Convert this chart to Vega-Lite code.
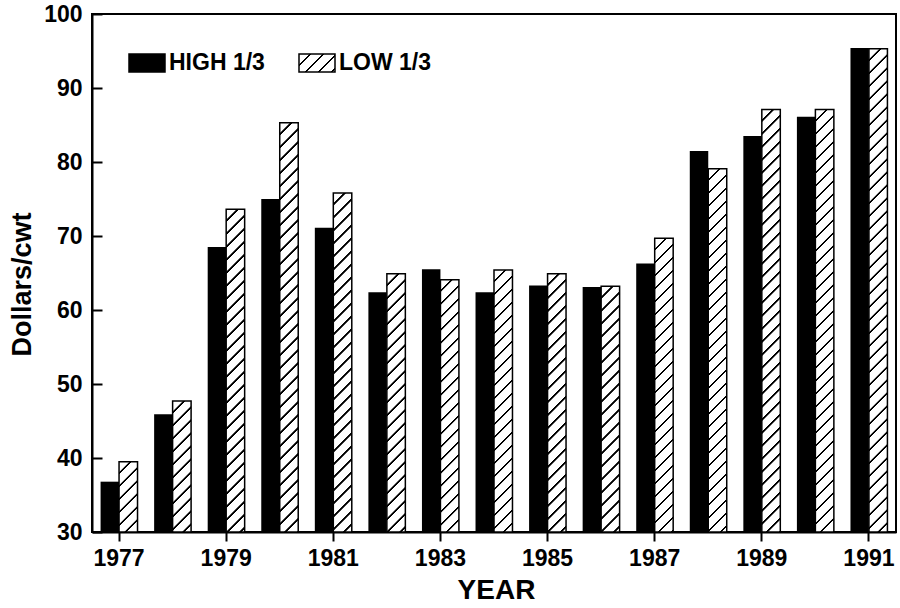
{
  "$schema": "https://vega.github.io/schema/vega-lite/v6.json",
  "autosize": {"type": "none"},
  "padding": {"left": 92, "top": 14, "right": 4, "bottom": 76},
  "width": 804,
  "height": 518,
  "background": "white",
  "params": [
    {"name": "hatch", "value": [
      {"offset":0,"color":"#fff"},
      {"offset":0.0195,"color":"#fff"},{"offset":0.0205,"color":"#000"},{"offset":0.024,"color":"#000"},{"offset":0.025,"color":"#fff"},
      {"offset":0.0445,"color":"#fff"},{"offset":0.0455,"color":"#000"},{"offset":0.049,"color":"#000"},{"offset":0.05,"color":"#fff"},
      {"offset":0.0695,"color":"#fff"},{"offset":0.0705,"color":"#000"},{"offset":0.074,"color":"#000"},{"offset":0.075,"color":"#fff"},
      {"offset":0.0945,"color":"#fff"},{"offset":0.0955,"color":"#000"},{"offset":0.099,"color":"#000"},{"offset":0.1,"color":"#fff"},
      {"offset":0.1195,"color":"#fff"},{"offset":0.1205,"color":"#000"},{"offset":0.124,"color":"#000"},{"offset":0.125,"color":"#fff"},
      {"offset":0.1445,"color":"#fff"},{"offset":0.1455,"color":"#000"},{"offset":0.149,"color":"#000"},{"offset":0.15,"color":"#fff"},
      {"offset":0.1695,"color":"#fff"},{"offset":0.1705,"color":"#000"},{"offset":0.174,"color":"#000"},{"offset":0.175,"color":"#fff"},
      {"offset":0.1945,"color":"#fff"},{"offset":0.1955,"color":"#000"},{"offset":0.199,"color":"#000"},{"offset":0.2,"color":"#fff"},
      {"offset":0.2195,"color":"#fff"},{"offset":0.2205,"color":"#000"},{"offset":0.224,"color":"#000"},{"offset":0.225,"color":"#fff"},
      {"offset":0.2445,"color":"#fff"},{"offset":0.2455,"color":"#000"},{"offset":0.249,"color":"#000"},{"offset":0.25,"color":"#fff"},
      {"offset":0.2695,"color":"#fff"},{"offset":0.2705,"color":"#000"},{"offset":0.274,"color":"#000"},{"offset":0.275,"color":"#fff"},
      {"offset":0.2945,"color":"#fff"},{"offset":0.2955,"color":"#000"},{"offset":0.299,"color":"#000"},{"offset":0.3,"color":"#fff"},
      {"offset":0.3195,"color":"#fff"},{"offset":0.3205,"color":"#000"},{"offset":0.324,"color":"#000"},{"offset":0.325,"color":"#fff"},
      {"offset":0.3445,"color":"#fff"},{"offset":0.3455,"color":"#000"},{"offset":0.349,"color":"#000"},{"offset":0.35,"color":"#fff"},
      {"offset":0.3695,"color":"#fff"},{"offset":0.3705,"color":"#000"},{"offset":0.374,"color":"#000"},{"offset":0.375,"color":"#fff"},
      {"offset":0.3945,"color":"#fff"},{"offset":0.3955,"color":"#000"},{"offset":0.399,"color":"#000"},{"offset":0.4,"color":"#fff"},
      {"offset":0.4195,"color":"#fff"},{"offset":0.4205,"color":"#000"},{"offset":0.424,"color":"#000"},{"offset":0.425,"color":"#fff"},
      {"offset":0.4445,"color":"#fff"},{"offset":0.4455,"color":"#000"},{"offset":0.449,"color":"#000"},{"offset":0.45,"color":"#fff"},
      {"offset":0.4695,"color":"#fff"},{"offset":0.4705,"color":"#000"},{"offset":0.474,"color":"#000"},{"offset":0.475,"color":"#fff"},
      {"offset":0.4945,"color":"#fff"},{"offset":0.4955,"color":"#000"},{"offset":0.499,"color":"#000"},{"offset":0.5,"color":"#fff"},
      {"offset":0.5195,"color":"#fff"},{"offset":0.5205,"color":"#000"},{"offset":0.524,"color":"#000"},{"offset":0.525,"color":"#fff"},
      {"offset":0.5445,"color":"#fff"},{"offset":0.5455,"color":"#000"},{"offset":0.549,"color":"#000"},{"offset":0.55,"color":"#fff"},
      {"offset":0.5695,"color":"#fff"},{"offset":0.5705,"color":"#000"},{"offset":0.574,"color":"#000"},{"offset":0.575,"color":"#fff"},
      {"offset":0.5945,"color":"#fff"},{"offset":0.5955,"color":"#000"},{"offset":0.599,"color":"#000"},{"offset":0.6,"color":"#fff"},
      {"offset":0.6195,"color":"#fff"},{"offset":0.6205,"color":"#000"},{"offset":0.624,"color":"#000"},{"offset":0.625,"color":"#fff"},
      {"offset":0.6445,"color":"#fff"},{"offset":0.6455,"color":"#000"},{"offset":0.649,"color":"#000"},{"offset":0.65,"color":"#fff"},
      {"offset":0.6695,"color":"#fff"},{"offset":0.6705,"color":"#000"},{"offset":0.674,"color":"#000"},{"offset":0.675,"color":"#fff"},
      {"offset":0.6945,"color":"#fff"},{"offset":0.6955,"color":"#000"},{"offset":0.699,"color":"#000"},{"offset":0.7,"color":"#fff"},
      {"offset":0.7195,"color":"#fff"},{"offset":0.7205,"color":"#000"},{"offset":0.724,"color":"#000"},{"offset":0.725,"color":"#fff"},
      {"offset":0.7445,"color":"#fff"},{"offset":0.7455,"color":"#000"},{"offset":0.749,"color":"#000"},{"offset":0.75,"color":"#fff"},
      {"offset":0.7695,"color":"#fff"},{"offset":0.7705,"color":"#000"},{"offset":0.774,"color":"#000"},{"offset":0.775,"color":"#fff"},
      {"offset":0.7945,"color":"#fff"},{"offset":0.7955,"color":"#000"},{"offset":0.799,"color":"#000"},{"offset":0.8,"color":"#fff"},
      {"offset":0.8195,"color":"#fff"},{"offset":0.8205,"color":"#000"},{"offset":0.824,"color":"#000"},{"offset":0.825,"color":"#fff"},
      {"offset":0.8445,"color":"#fff"},{"offset":0.8455,"color":"#000"},{"offset":0.849,"color":"#000"},{"offset":0.85,"color":"#fff"},
      {"offset":0.8695,"color":"#fff"},{"offset":0.8705,"color":"#000"},{"offset":0.874,"color":"#000"},{"offset":0.875,"color":"#fff"},
      {"offset":0.8945,"color":"#fff"},{"offset":0.8955,"color":"#000"},{"offset":0.899,"color":"#000"},{"offset":0.9,"color":"#fff"},
      {"offset":0.9195,"color":"#fff"},{"offset":0.9205,"color":"#000"},{"offset":0.924,"color":"#000"},{"offset":0.925,"color":"#fff"},
      {"offset":0.9445,"color":"#fff"},{"offset":0.9455,"color":"#000"},{"offset":0.949,"color":"#000"},{"offset":0.95,"color":"#fff"},
      {"offset":0.9695,"color":"#fff"},{"offset":0.9705,"color":"#000"},{"offset":0.974,"color":"#000"},{"offset":0.975,"color":"#fff"},
      {"offset":0.9945,"color":"#fff"},{"offset":0.9955,"color":"#000"},{"offset":0.999,"color":"#000"},{"offset":1,"color":"#fff"}
    ]}
  ],
  "data": {"values": [
    {"year": 1977, "series": "HIGH 1/3", "value": 36.8}, {"year": 1977, "series": "LOW 1/3", "value": 39.5},
    {"year": 1978, "series": "HIGH 1/3", "value": 45.9}, {"year": 1978, "series": "LOW 1/3", "value": 47.7},
    {"year": 1979, "series": "HIGH 1/3", "value": 68.5}, {"year": 1979, "series": "LOW 1/3", "value": 73.6},
    {"year": 1980, "series": "HIGH 1/3", "value": 75.0}, {"year": 1980, "series": "LOW 1/3", "value": 85.3},
    {"year": 1981, "series": "HIGH 1/3", "value": 71.1}, {"year": 1981, "series": "LOW 1/3", "value": 75.8},
    {"year": 1982, "series": "HIGH 1/3", "value": 62.4}, {"year": 1982, "series": "LOW 1/3", "value": 64.9},
    {"year": 1983, "series": "HIGH 1/3", "value": 65.5}, {"year": 1983, "series": "LOW 1/3", "value": 64.1},
    {"year": 1984, "series": "HIGH 1/3", "value": 62.4}, {"year": 1984, "series": "LOW 1/3", "value": 65.4},
    {"year": 1985, "series": "HIGH 1/3", "value": 63.3}, {"year": 1985, "series": "LOW 1/3", "value": 64.9},
    {"year": 1986, "series": "HIGH 1/3", "value": 63.1}, {"year": 1986, "series": "LOW 1/3", "value": 63.2},
    {"year": 1987, "series": "HIGH 1/3", "value": 66.3}, {"year": 1987, "series": "LOW 1/3", "value": 69.7},
    {"year": 1988, "series": "HIGH 1/3", "value": 81.5}, {"year": 1988, "series": "LOW 1/3", "value": 79.1},
    {"year": 1989, "series": "HIGH 1/3", "value": 83.5}, {"year": 1989, "series": "LOW 1/3", "value": 87.1},
    {"year": 1990, "series": "HIGH 1/3", "value": 86.1}, {"year": 1990, "series": "LOW 1/3", "value": 87.1},
    {"year": 1991, "series": "HIGH 1/3", "value": 95.4}, {"year": 1991, "series": "LOW 1/3", "value": 95.3}
  ]},
  "encoding": {
    "x": {
      "field": "year", "type": "ordinal",
      "scale": {"paddingInner": 0.31, "paddingOuter": 0.16},
      "axis": {
        "title": "YEAR", "labelAngle": 0,
        "values": [1977, 1979, 1981, 1983, 1985, 1987, 1989, 1991],
        "tickSize": 9, "labelPadding": 6, "labelFontSize": 23,
        "titleFontSize": 28, "titleX": 404, "titleY": 58, "titleBaseline": "middle", "titleAlign": "center"
      }
    },
    "xOffset": {
      "field": "series", "type": "nominal",
      "scale": {"domain": ["HIGH 1/3", "LOW 1/3"], "paddingInner": 0, "paddingOuter": 0}
    },
    "y": {
      "field": "value", "type": "quantitative",
      "scale": {"domain": [30, 100], "zero": false, "nice": false},
      "axis": {
        "title": "Dollars/cwt",
        "values": [30, 40, 50, 60, 70, 80, 90, 100],
        "tickSize": -10, "labelPadding": 20, "labelFontSize": 23,
        "titleFontSize": 27, "titleX": -70, "titleY": 270, "titleAngle": 270,
        "titleBaseline": "middle", "titleAlign": "center"
      }
    },
    "y2": {"datum": 30}
  },
  "layer": [
    {
      "mark": {"type": "bar"},
      "encoding": {
        "fill": {
          "field": "series", "type": "nominal",
          "scale": {
            "domain": ["HIGH 1/3", "LOW 1/3"],
            "range": ["black", {"expr": "{gradient: 'linear', x1: 0, y1: 0, x2: 11.556, y2: 5.778, stops: hatch}"}]
          },
          "legend": {
            "title": null, "orient": "none", "legendX": 36, "legendY": 30,
            "direction": "horizontal",
            "symbolType": "M-1,-0.5H1V0.5H-1Z", "symbolSize": 1296,
            "symbolStrokeColor": "black", "symbolStrokeWidth": 1.5,
            "labelFontSize": 23, "labelFont": "Liberation Sans", "labelFontWeight": "bold",
            "labelColor": "black", "labelOffset": 3, "columnPadding": 31, "padding": 0
          }
        }
      }
    },
    {
      "transform": [{"filter": "datum.series === 'LOW 1/3'"}],
      "mark": {
        "type": "bar",
        "stroke": "black",
        "strokeWidth": 1.5,
        "fill": {"expr": "{gradient: 'linear', x1: 0, y1: 0, x2: 9620 / (342.25 + pow((datum.value - 30) * 7.4, 2)), y2: 520 * (datum.value - 30) * 7.4 / (342.25 + pow((datum.value - 30) * 7.4, 2)), stops: hatch}"}
      }
    }
  ],
  "config": {
    "font": "Liberation Sans",
    "view": {"stroke": "black", "strokeWidth": 2},
    "axis": {
      "grid": false,
      "domainColor": "black", "domainWidth": 2,
      "tickColor": "black", "tickWidth": 2,
      "labelColor": "black", "titleColor": "black",
      "labelFont": "Liberation Sans", "titleFont": "Liberation Sans",
      "labelFontWeight": "bold", "titleFontWeight": "bold"
    }
  }
}
